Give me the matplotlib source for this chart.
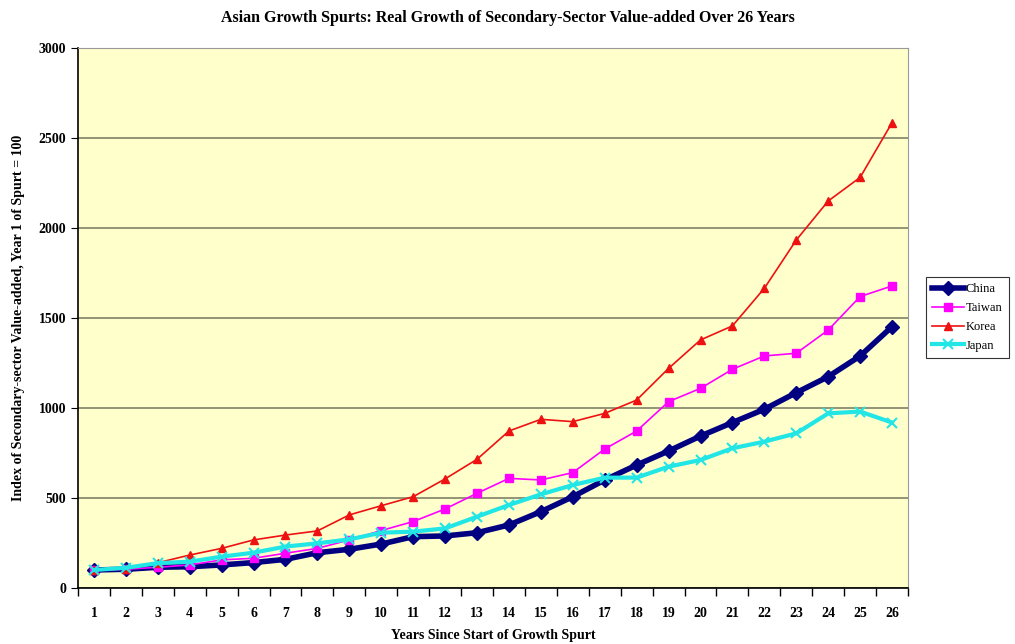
import numpy as np
import matplotlib.pyplot as plt
from matplotlib.ticker import FixedLocator

plt.rcParams['font.family'] = ['Liberation Serif', 'DejaVu Serif']

years = list(range(1, 27))
china = [100, 104, 115, 118, 128, 141, 159, 196, 215, 244, 285, 289, 307, 350, 424,
         507, 600, 683, 761, 844, 919, 993, 1085, 1174, 1289, 1452]
taiwan = [100, 104, 115, 128, 156, 165, 193, 220, 267, 319, 369, 439, 526, 609, 600,
          641, 772, 872, 1035, 1109, 1215, 1289, 1304, 1433, 1619, 1678]
korea = [100, 105, 140, 183, 220, 267, 294, 317, 406, 457, 507, 606, 715, 872, 937,
         924, 970, 1044, 1220, 1378, 1456, 1665, 1933, 2150, 2281, 2585]
japan = [100, 112, 138, 146, 174, 196, 230, 248, 270, 307, 313, 331, 396, 461, 520,
         572, 613, 613, 674, 711, 776, 813, 859, 970, 980, 919]

fig = plt.figure(figsize=(10.15, 6.44), dpi=100)
ax = fig.add_axes([0.0768, 0.087, 0.8178, 0.8385])
ax.set_facecolor('#FFFFCC')

x = np.arange(len(years))
ax.plot(x, china, color='#000080', lw=4, marker='D', ms=7, label='China', zorder=3)
ax.plot(x, taiwan, color='#FF00FF', lw=1.2, marker='s', ms=6, label='Taiwan', zorder=4)
ax.plot(x, korea, color='#EE1111', lw=1.2, marker='^', ms=6, label='Korea', zorder=5)
ax.plot(x, japan, color='#22E5E5', lw=3, marker='x', ms=7, mew=1.5, label='Japan', zorder=6)

ax.set_xlim(-0.5, len(years) - 0.5)
ax.set_ylim(0, 3000)
ax.set_yticks(range(0, 3001, 500))
ax.yaxis.grid(True, color='#808066', lw=1.2)
ax.set_axisbelow(True)

ax.set_xticks(x)
ax.set_xticklabels([str(y) for y in years], fontsize=10, fontweight='bold')
ax.xaxis.set_minor_locator(FixedLocator(np.arange(-0.5, len(years), 1)))
ax.tick_params(axis='x', which='major', length=0, pad=14)
ax.tick_params(axis='x', which='minor', length=6, width=1, direction='out')
ax.tick_params(axis='y', length=5, labelsize=10)
for lab in ax.get_yticklabels():
    lab.set_fontweight('bold')

for s in ['top', 'right']:
    ax.spines[s].set_color('#999999')
for s in ['left', 'bottom']:
    ax.spines[s].set_color('black')
    ax.spines[s].set_linewidth(1.2)

ax.set_xlabel('Years Since Start of Growth Spurt', fontsize=10, fontweight='bold', labelpad=6)
ax.set_ylabel('Index of Secondary-sector Value-added, Year 1 of Spurt = 100',
              fontsize=10, fontweight='bold', labelpad=10)
fig.text(0.5, 0.972, 'Asian Growth Spurts: Real Growth of Secondary-Sector Value-added Over 26 Years',
         ha='center', va='center', fontsize=11.5, fontweight='bold')

leg = fig.legend(loc='upper left', bbox_to_anchor=(0.912, 0.57), fontsize=9,
                 frameon=True, fancybox=False, edgecolor='black', borderpad=0.5,
                 borderaxespad=0.0, handlelength=2.6, handletextpad=0.1,
                 labelspacing=0.55)
leg.get_frame().set_linewidth(0.8)

fig.savefig('out.png', dpi=100)
